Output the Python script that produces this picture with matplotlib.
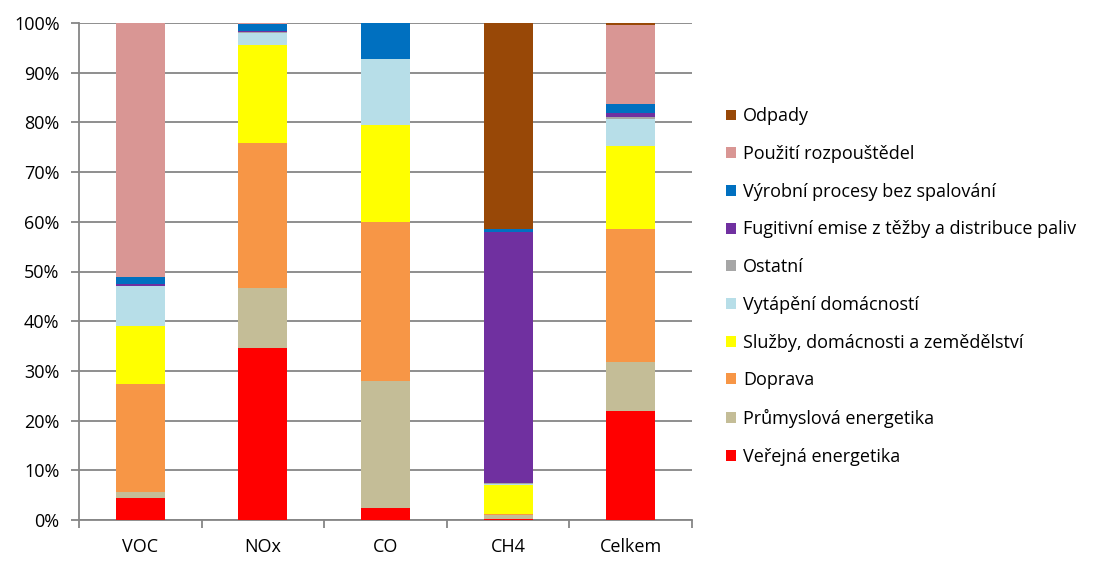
import matplotlib
matplotlib.use("Agg")
import matplotlib.pyplot as plt
import numpy as np
from matplotlib.ticker import MultipleLocator, FuncFormatter

plt.rcParams['font.family'] = ['Open Sans', 'DejaVu Sans']

categories = ["VOC", "NOx", "CO", "CH4", "Celkem"]

# shares in %, bottom to top
verejna = [4.5, 34.6, 2.4, 0.3, 21.9]
prumyslova = [1.1, 12.1, 25.6, 0.7, 9.9]
doprava = [21.8, 29.2, 32.0, 0.3, 26.8]
sluzby = [11.7, 19.7, 19.5, 5.7, 16.7]
vytapeni = [8.0, 2.4, 13.3, 0.2, 5.4]
ostatni = [0.0, 0.1, 0.0, 0.2, 0.4]
fugitivni = [0.4, 0.3, 0.0, 50.5, 0.7]
vyrobni = [1.4, 1.3, 7.2, 0.7, 1.9]
rozpoustedla = [51.1, 0.2, 0.0, 0.0, 15.8]
odpady = [0.0, 0.1, 0.0, 41.4, 0.5]

series = [
    ("Veřejná energetika", verejna, "#FF0000"),
    ("Průmyslová energetika", prumyslova, "#C4BD97"),
    ("Doprava", doprava, "#F79646"),
    ("Služby, domácnosti a zemědělství", sluzby, "#FFFF00"),
    ("Vytápění domácností", vytapeni, "#B7DEE8"),
    ("Ostatní", ostatni, "#A6A6A6"),
    ("Fugitivní emise z těžby a distribuce paliv", fugitivni, "#7030A0"),
    ("Výrobní procesy bez spalování", vyrobni, "#0070C0"),
    ("Použití rozpouštědel", rozpoustedla, "#D99694"),
    ("Odpady", odpady, "#984807"),
]

W, H = 1102, 572
fig = plt.figure(figsize=(W / 100, H / 100), dpi=100)
ax = fig.add_axes([79 / W, 1 - 520 / H, (692 - 79) / W, (520 - 23) / H])

x = np.arange(len(categories))
bottom = np.zeros(len(categories))
handles = []
for name, vals, col in series:
    vals = np.array(vals)
    b = ax.bar(x, vals, 0.4, bottom=bottom, color=col, label=name, zorder=3)
    handles.append(b)
    bottom += vals

grid = "#868686"
ax.set_xlim(-0.5, len(categories) - 0.5)
ax.set_ylim(0, 100)
ax.yaxis.set_major_locator(MultipleLocator(10))
ax.yaxis.set_major_formatter(FuncFormatter(lambda v, p: f"{v:.0f}%"))
ax.grid(axis="y", color=grid, linewidth=1.3, zorder=0)
ax.set_xticks(x)
ax.set_xticklabels(categories)
ax.set_xticks(np.arange(len(categories) + 1) - 0.5, minor=True)
ax.tick_params(axis="x", which="major", length=0, pad=13, labelsize=13)
ax.tick_params(axis="x", which="minor", length=6, color=grid, width=1.3)
ax.tick_params(axis="y", length=6, color=grid, width=1.3, labelsize=13, pad=8)
for s in ["top", "right"]:
    ax.spines[s].set_visible(False)
for s in ["left", "bottom"]:
    ax.spines[s].set_color(grid)
    ax.spines[s].set_linewidth(1.3)

leg = fig.legend(handles[::-1], [s[0] for s in series][::-1],
                 loc="center left", bbox_to_anchor=(726 / W, 1 - 286.5 / H),
                 frameon=False, fontsize=13, borderpad=0, borderaxespad=0,
                 handlelength=0.55, handleheight=0.55, handletextpad=0.4,
                 labelspacing=1.09)

fig.savefig("out.png", dpi=100)
